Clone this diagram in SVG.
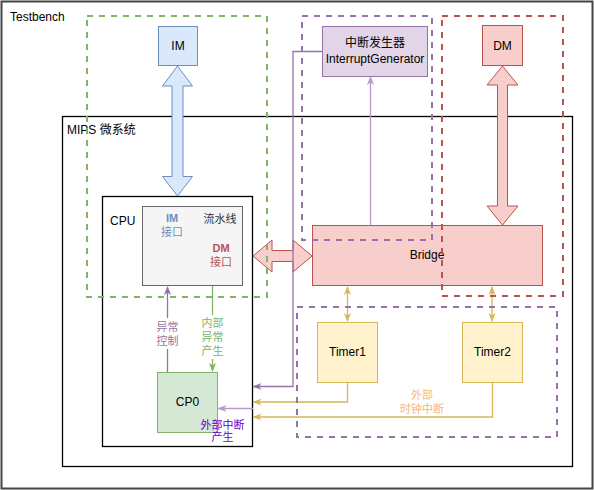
<svg xmlns="http://www.w3.org/2000/svg" width="594" height="490" viewBox="0 0 594 490">
<defs>
<style>
text{font-family:"Liberation Sans","Noto Sans CJK SC",sans-serif;font-size:12px;fill:#000}
.c{text-anchor:middle}
.s{font-size:11px}
.dash{fill:none;stroke-width:2;stroke-dasharray:6 6}
.ln{fill:none;stroke-width:1.3}
</style>
<marker id="ap" viewBox="0 0 10 10" refX="9" refY="5" markerWidth="9" markerHeight="9" markerUnits="userSpaceOnUse" orient="auto-start-reverse"><path d="M0,1 L10,5 L0,9 L3,5 Z" fill="#9673a6"/></marker>
<marker id="alp" viewBox="0 0 10 10" refX="9" refY="5" markerWidth="9" markerHeight="9" markerUnits="userSpaceOnUse" orient="auto-start-reverse"><path d="M0,1 L10,5 L0,9 L3,5 Z" fill="#b59ccb"/></marker>
<marker id="ag" viewBox="0 0 10 10" refX="9" refY="5" markerWidth="9" markerHeight="9" markerUnits="userSpaceOnUse" orient="auto-start-reverse"><path d="M0,1 L10,5 L0,9 L3,5 Z" fill="#82b366"/></marker>
<marker id="ay" viewBox="0 0 10 10" refX="9" refY="5" markerWidth="9" markerHeight="9" markerUnits="userSpaceOnUse" orient="auto-start-reverse"><path d="M0,1 L10,5 L0,9 L3,5 Z" fill="#d6b656"/></marker>
</defs>

<g id="testbench">
<rect x="1.5" y="1.5" width="591" height="487" fill="#fff" stroke="#444" stroke-width="2"/>
<text x="10" y="21">Testbench</text>
</g>

<g id="mips">
<rect x="62.5" y="116.5" width="510" height="350" fill="none" stroke="#000" stroke-width="1.3"/>
<text x="67" y="134">MIPS 微系统</text>
</g>

<g id="cpu">
<rect x="102.5" y="196.5" width="150" height="250" fill="none" stroke="#000" stroke-width="1.3"/>
<text x="110" y="225">CPU</text>
</g>

<g id="pipeline">
<rect x="142.5" y="206.5" width="100" height="79" fill="#f5f5f5" stroke="#666"/>
<text class="c s" x="172" y="222" fill="#6c8ebf" style="fill:#6c8ebf;font-weight:bold">IM</text>
<text class="c s" x="172" y="236" style="fill:#6c8ebf">接口</text>
<text class="c s" x="220" y="223" style="fill:#333">流水线</text>
<text class="c s" x="221" y="252" style="fill:#b85450;font-weight:bold">DM</text>
<text class="c s" x="221" y="266" style="fill:#b85450">接口</text>
</g>

<g id="cp0">
<rect x="157.5" y="372.5" width="60" height="60" fill="#d5e8d4" stroke="#82b366"/>
<text class="c" x="187.5" y="406">CP0</text>
</g>

<g id="im">
<rect x="158.5" y="26.5" width="39" height="39" fill="#dae8fc" stroke="#6c8ebf"/>
<text class="c" x="178" y="50">IM</text>
</g>

<g id="dm">
<rect x="482.5" y="25.5" width="40" height="40" fill="#f8cecc" stroke="#b85450"/>
<text class="c" x="502.5" y="50">DM</text>
</g>

<g id="intgen">
<rect x="322.5" y="26.5" width="105" height="50" fill="#e1d5e7" stroke="#9673a6"/>
<text class="c" x="375" y="47">中断发生器</text>
<text class="c" x="375" y="63">InterruptGenerator</text>
</g>

<g id="bridge">
<rect x="312.5" y="225.5" width="230" height="60" fill="#f8cecc" stroke="#b85450"/>
<text class="c" x="427" y="259">Bridge</text>
</g>

<g id="timer1">
<rect x="317.5" y="322.5" width="60" height="60" fill="#fff2cc" stroke="#d6b656"/>
<text class="c" x="347.5" y="356">Timer1</text>
</g>

<g id="timer2">
<rect x="462.5" y="322.5" width="60" height="60" fill="#fff2cc" stroke="#d6b656"/>
<text class="c" x="492.5" y="356">Timer2</text>
</g>

<g id="connectors">
<polygon points="177.5,66 192.5,86 183,86 183,176.5 192.5,176.5 177.5,196 162.5,176.5 172,176.5 172,86 162.5,86" fill="#dae8fc" stroke="#6c8ebf"/>
<polygon points="502.5,66 518,85 507.5,85 507.5,206 518,206 502.5,225 487,206 497.5,206 497.5,85 487,85" fill="#f8cecc" stroke="#b85450"/>
<polygon points="253,256 272,240 272,250.5 293,250.5 293,240 312,256 293,272 293,261.5 272,261.5 272,272" fill="#f8cecc" stroke="#b85450"/>
<path class="ln" d="M370.5,225 V77" stroke="#b59ccb" marker-end="url(#alp)"/>
<path class="ln" d="M322,51.5 H293 V386.5 H253.5" stroke="#9673a6" marker-end="url(#ap)"/>
<path class="ln" d="M253,408.5 H218.5" stroke="#b59ccb" marker-end="url(#alp)"/>
<path class="ln" d="M167.5,372 V287" stroke="#9673a6" marker-end="url(#ap)"/>
<path class="ln" d="M212.5,286 V371" stroke="#82b366" marker-end="url(#ag)"/>
<path class="ln" d="M347.5,382.5 V402 H253.5" stroke="#d6b656" marker-end="url(#ay)"/>
<path class="ln" d="M492.5,382.5 V417 H253.5" stroke="#d6b656" marker-end="url(#ay)"/>
<path class="ln" d="M347.5,287 V321" stroke="#d6b656" marker-start="url(#ay)" marker-end="url(#ay)"/>
<path class="ln" d="M492,287 V321" stroke="#d6b656" marker-start="url(#ay)" marker-end="url(#ay)"/>
<rect x="155" y="318" width="25" height="31" fill="#fff"/>
<text class="c s" x="167.5" y="331" style="fill:#9673a6">异常</text>
<text class="c s" x="167.5" y="345" style="fill:#9673a6">控制</text>
<rect x="200" y="315" width="25" height="44" fill="#fff"/>
<text class="c s" x="212.5" y="327" style="fill:#82b366">内部</text>
<text class="c s" x="212.5" y="341" style="fill:#82b366">异常</text>
<text class="c s" x="212.5" y="355" style="fill:#82b366">产生</text>
<text class="c s" x="422" y="399" style="fill:#ffb570">外部</text>
<text class="c s" x="422" y="413" style="fill:#ffb570">时钟中断</text>
<text class="c s" x="222.5" y="429" style="fill:#6a00cc">外部中断</text>
<text class="c s" x="222.5" y="441" style="fill:#6a00cc">产生</text>
</g>

<g id="regions">
<rect class="dash" x="87" y="16" width="180" height="281" stroke="#82b366"/>
<rect class="dash" x="302" y="16" width="130" height="224" stroke="#9673a6"/>
<rect class="dash" x="442" y="16" width="121" height="280" stroke="#b85450"/>
<rect class="dash" x="297" y="307" width="260" height="130" stroke="#9673a6"/>
</g>
</svg>
